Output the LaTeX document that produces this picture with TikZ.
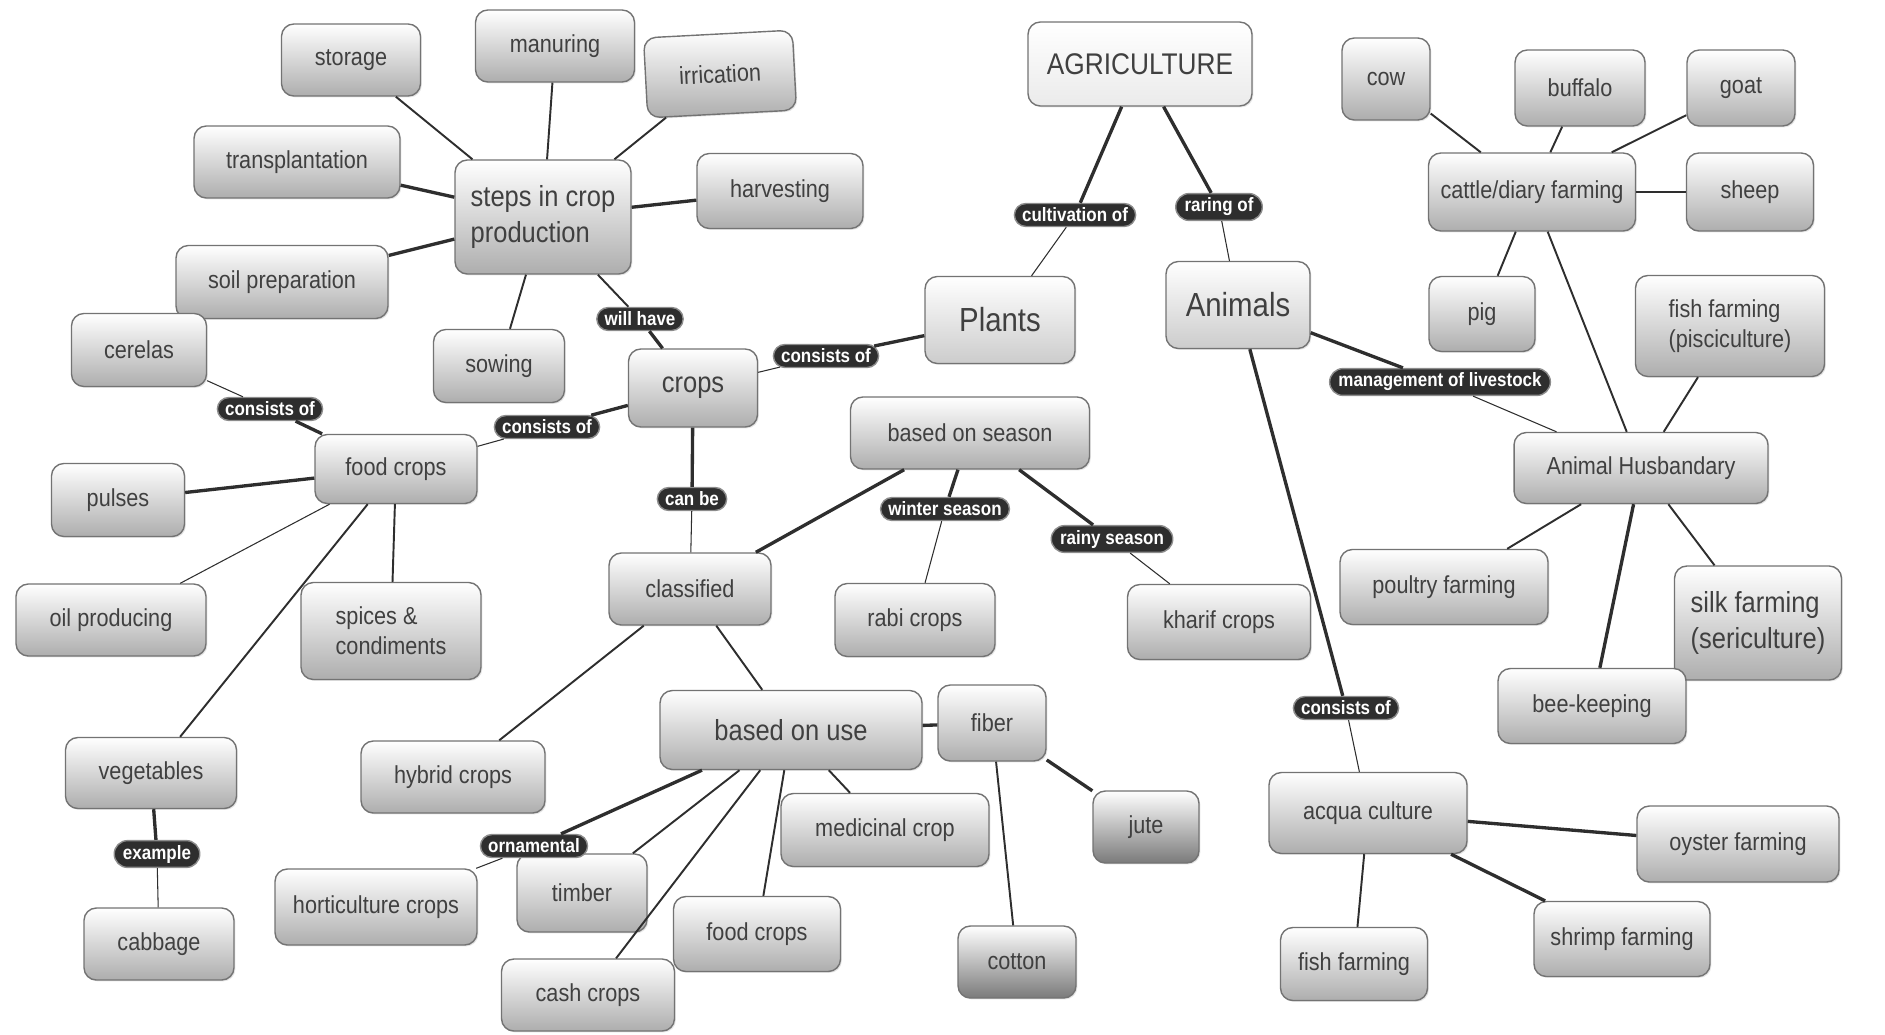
\documentclass[tikz,border=0pt]{standalone}
\usepackage{fontspec}
\setmainfont{Liberation Sans}[FakeStretch=0.88]
\usetikzlibrary{shapes.misc,shadows}

\tikzset{
  box/.style={draw=black!55, line width=0.8pt, rounded corners=7pt, top color=white, bottom color=black!32,
    text=black!75, align=left, font=\fontsize{14}{17}\selectfont,
    drop shadow={opacity=0.2, shadow xshift=0.8pt, shadow yshift=-0.8pt}},
  bigbox/.style={box, font=\fontsize{16.5}{20}\selectfont},
  darkbox/.style={box, bottom color=black!52},
  pill/.style={rounded rectangle, fill=black!82, draw=black!45, line width=0.8pt, text=white,
    font=\bfseries\fontsize{11}{12}\selectfont, inner xsep=3pt, inner ysep=2.5pt},
  link/.style={draw=black!82, line width=1.1pt},
  thick link/.style={link, line width=1.9pt},
  thin link/.style={link, line width=0.6pt}
}

\begin{document}
\begin{tikzpicture}[x=0.02cm, y=-0.02cm]
    \useasboundingbox (0,0) rectangle (1885,1034);

    % Top: agriculture
    \node[box, top color=white, bottom color=black!8, font=\fontsize{17}{20}\selectfont, minimum width=4.48cm, minimum height=1.68cm] (agri) at (1140,64) {AGRICULTURE};
    \node[box, bottom color=black!20, font=\fontsize{19}{22}\selectfont, minimum width=3.0cm, minimum height=1.74cm] (plants) at (1000,320) {Plants};
    \node[box, bottom color=black!20, font=\fontsize{19}{22}\selectfont, minimum width=2.88cm, minimum height=1.74cm] (animals) at (1238,305) {Animals};

    % Steps in crop production
    \node[bigbox, minimum width=3.52cm, minimum height=2.28cm] (steps) at (543,217) {steps in crop\\production};
    \node[box, minimum width=2.78cm, minimum height=1.44cm] (storage) at (351,60) {storage};
    \node[box, minimum width=3.18cm, minimum height=1.44cm] (manuring) at (555,46) {manuring};
    \node[box, rotate=3, minimum width=2.98cm, minimum height=1.6cm] (irrication) at (720,74) {irrication};
    \node[box, minimum width=4.12cm, minimum height=1.44cm] (transplant) at (297,162) {transplantation};
    \node[box, minimum width=3.32cm, minimum height=1.5cm] (harvesting) at (780,191) {harvesting};
    \node[box, minimum width=4.24cm, minimum height=1.46cm] (soilprep) at (282,282) {soil preparation};
    \node[box, minimum width=2.62cm, minimum height=1.46cm] (sowing) at (499,366) {sowing};

    % Crops and food crops
    \node[bigbox, minimum width=2.58cm, minimum height=1.56cm] (crops) at (693,388) {crops};
    \node[box, minimum width=3.24cm, minimum height=1.38cm] (foodcrops) at (396,469) {food crops};
    \node[box, minimum width=2.7cm, minimum height=1.46cm] (cerelas) at (139,350) {cerelas};
    \node[box, minimum width=2.66cm, minimum height=1.46cm] (pulses) at (118,500) {pulses};
    \node[box, minimum width=3.8cm, minimum height=1.44cm] (oil) at (111,620) {oil producing};
    \node[box, minimum width=3.6cm, minimum height=1.94cm] (spices) at (391,631) {spices \&\\condiments};
    \node[box, minimum width=3.42cm, minimum height=1.42cm] (vegetables) at (151,773) {vegetables};
    \node[box, minimum width=3.0cm, minimum height=1.44cm] (cabbage) at (159,944) {cabbage};

    % Classification
    \node[box, minimum width=3.24cm, minimum height=1.44cm] (classified) at (690,589) {classified};
    \node[box, minimum width=4.78cm, minimum height=1.44cm] (season) at (970,433) {based on season};
    \node[box, minimum width=3.2cm, minimum height=1.46cm] (rabi) at (915,620) {rabi crops};
    \node[box, minimum width=3.66cm, minimum height=1.5cm] (kharif) at (1219,622) {kharif crops};
    \node[box, minimum width=3.68cm, minimum height=1.44cm] (hybrid) at (453,777) {hybrid crops};
    \node[bigbox, minimum width=5.24cm, minimum height=1.58cm] (use) at (791,730) {based on use};
    \node[box, minimum width=2.16cm, minimum height=1.52cm] (fiber) at (992,723) {fiber};
    \node[darkbox, minimum width=2.12cm, minimum height=1.44cm] (jute) at (1146,827) {jute};
    \node[darkbox, minimum width=2.36cm, minimum height=1.44cm] (cotton) at (1017,962) {cotton};
    \node[box, minimum width=4.16cm, minimum height=1.46cm] (medicinal) at (885,830) {medicinal crop};
    \node[box, minimum width=4.04cm, minimum height=1.52cm] (horti) at (376,907) {horticulture crops};
    \node[box, minimum width=2.6cm, minimum height=1.56cm] (timber) at (582,893) {timber};
    \node[box, minimum width=3.34cm, minimum height=1.5cm] (foodcrops2) at (757,934) {food crops};
    \node[box, minimum width=3.46cm, minimum height=1.44cm] (cash) at (588,995) {cash crops};

    % Animal husbandary
    \node[box, minimum width=5.08cm, minimum height=1.42cm] (husbandry) at (1641,468) {Animal Husbandary};
    \node[box, minimum width=4.14cm, minimum height=1.56cm] (cattle) at (1532,192) {cattle/diary farming};
    \node[box, minimum width=1.76cm, minimum height=1.64cm] (cow) at (1386,79) {cow};
    \node[box, minimum width=2.6cm, minimum height=1.52cm] (buffalo) at (1580,88) {buffalo};
    \node[box, minimum width=2.16cm, minimum height=1.52cm] (goat) at (1741,88) {goat};
    \node[box, minimum width=2.54cm, minimum height=1.56cm] (sheep) at (1750,192) {sheep};
    \node[box, minimum width=2.12cm, minimum height=1.5cm] (pig) at (1482,314) {pig};
    \node[box, minimum width=3.78cm, minimum height=2.02cm] (pisci) at (1730,326) {fish farming\\(pisciculture)};
    \node[box, minimum width=4.16cm, minimum height=1.5cm] (poultry) at (1444,587) {poultry farming};
    \node[bigbox, minimum width=3.34cm, minimum height=2.28cm] (silk) at (1758,623) {silk farming\\(sericulture)};
    \node[box, minimum width=3.76cm, minimum height=1.5cm] (bee) at (1592,706) {bee-keeping};

    % Acqua culture
    \node[box, minimum width=3.96cm, minimum height=1.62cm] (acqua) at (1368,813) {acqua culture};
    \node[box, minimum width=4.04cm, minimum height=1.52cm] (oyster) at (1738,844) {oyster farming};
    \node[box, minimum width=2.94cm, minimum height=1.46cm] (fishfarm) at (1354,964) {fish farming};
    \node[box, minimum width=3.52cm, minimum height=1.5cm] (shrimp) at (1622,939) {shrimp farming};

    % Link labels
    \node[pill] (lcult) at (1075,215) {cultivation of};
    \node[pill] (lraring) at (1219,207) {raring of};
    \node[pill] (lwill) at (640,319) {will have};
    \node[pill] (lplants) at (826,356) {consists of};
    \node[pill] (lcerelas) at (270,409) {consists of};
    \node[pill] (lfood) at (547,427) {consists of};
    \node[pill] (lcanbe) at (692,499) {can be};
    \node[pill] (lwinter) at (945,509) {winter season};
    \node[pill] (lrainy) at (1112,539) {rainy season};
    \node[pill] (lmanage) at (1440,382) {management of livestock};
    \node[pill] (lacqua) at (1346,708) {consists of};
    \node[pill] (lorna) at (534,846) {ornamental};
    \node[pill] (lexample) at (157,854) {example};

    % Links from agriculture
    \draw[thick link] (agri) -- (lcult);
    \draw[thin link] (lcult) -- (plants);
    \draw[thick link] (agri) -- (lraring);
    \draw[thin link] (lraring) -- (animals);

    % Links of steps
    \draw[link] (steps) -- (storage);
    \draw[link] (steps) -- (manuring);
    \draw[link] (steps) -- (irrication);
    \draw[thick link] (steps) -- (transplant);
    \draw[thick link] (steps) -- (harvesting);
    \draw[thick link] (steps) -- (soilprep);
    \draw[link] (steps) -- (sowing);
    \draw[link] (steps) -- (lwill);
    \draw[thick link] (lwill) -- (crops);

    % Links of crops
    \draw[thin link] (crops) -- (lplants);
    \draw[thick link] (lplants) -- (plants);
    \draw[thick link] (crops) -- (lfood);
    \draw[thin link] (lfood) -- (foodcrops);
    \draw[thick link] (foodcrops) -- (lcerelas);
    \draw[thin link] (lcerelas) -- (cerelas);
    \draw[thick link] (foodcrops) -- (pulses);
    \draw[thin link] (foodcrops) -- (oil);
    \draw[link] (foodcrops) -- (spices);
    \draw[link] (foodcrops) -- (vegetables);
    \draw[thick link] (vegetables) -- (lexample);
    \draw[thin link] (lexample) -- (cabbage);
    \draw[thick link] (crops) -- (lcanbe);
    \draw[thin link] (lcanbe) -- (classified);

    % Links of classified
    \draw[thick link] (classified) -- (season);
    \draw[thick link] (season) -- (lwinter);
    \draw[thin link] (lwinter) -- (rabi);
    \draw[thick link] (season) -- (lrainy);
    \draw[thin link] (lrainy) -- (kharif);
    \draw[link] (classified) -- (hybrid);
    \draw[link] (classified) -- (use);
    \draw[thick link] (use) -- (fiber);
    \draw[thick link] (fiber) -- (jute);
    \draw[link] (fiber) -- (cotton);
    \draw[link] (use) -- (medicinal);
    \draw[thick link] (use) -- (lorna);
    \draw[thin link] (lorna) -- (horti);
    \draw[link] (use) -- (timber);
    \draw[link] (use) -- (foodcrops2);
    \draw[link] (use) -- (cash);

    % Links of animals
    \draw[thick link] (animals) -- (lmanage);
    \draw[thin link] (lmanage) -- (husbandry);
    \draw[thick link] (animals) -- (lacqua);
    \draw[thin link] (lacqua) -- (acqua);
    \draw[thick link] (acqua) -- (oyster);
    \draw[link] (acqua) -- (fishfarm);
    \draw[thick link] (acqua) -- (shrimp);
    \draw[link] (husbandry) -- (cattle);
    \draw[link] (husbandry) -- (pisci);
    \draw[link] (husbandry) -- (poultry);
    \draw[link] (husbandry) -- (silk);
    \draw[thick link] (husbandry) -- (bee);
    \draw[link] (cattle) -- (cow);
    \draw[link] (cattle) -- (buffalo);
    \draw[link] (cattle) -- (goat);
    \draw[link] (cattle) -- (sheep);
    \draw[link] (cattle) -- (pig);
\end{tikzpicture}
\end{document}
